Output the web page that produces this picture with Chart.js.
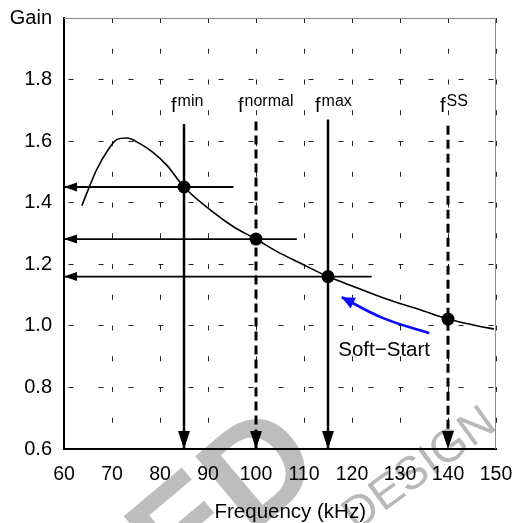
<!DOCTYPE html>
<html>
<head>
<meta charset="utf-8">
<script src="https://cdn.jsdelivr.net/npm/chart.js@4.4.1/dist/chart.umd.min.js"></script>
<style>
  html, body { margin: 0; padding: 0; background: #fff; }
  #wrap { width: 518px; height: 523px; position: relative; }
</style>
</head>
<body>
<div id="wrap"><canvas id="gainChart"></canvas></div>
<script>
const xTickValues = [60, 70, 80, 90, 100, 110, 120, 130, 140, 150];
const yTickValues = [0.6, 0.8, 1.0, 1.2, 1.4, 1.6, 1.8, 2.0];
const yAxisName = "Gain";
const xAxisName = "Frequency (kHz)";

// gain curve
const gainFreq  = [63.7, 66.8, 69.2, 71.0, 73.1, 75.8, 78.6, 81.4, 85.0, 91.0, 95.3, 100.0, 104.3, 109.2, 115.0, 120.3, 127.2, 134.2, 140.0, 146.7, 149.6];
const gainValue = [1.39, 1.507, 1.572, 1.605, 1.61, 1.592, 1.563, 1.522, 1.451, 1.37, 1.322, 1.282, 1.242, 1.204, 1.16, 1.128, 1.087, 1.052, 1.022, 0.998, 0.99];

// operating points fmin / fnormal / fmax / fSS
const opNames   = ["min", "normal", "max", "SS"];
const opFreq    = [85, 100, 115, 140];
const opGain    = [1.451, 1.282, 1.16, 1.022];
const opLineTop = [1.656, 1.664, 1.67, 1.65];

// right-hand ends of the horizontal read-out arrows (fmin, fnormal, fmax)
const readoutFrom = [95.3, 108.5, 124.1];

// soft-start sweep arrow, tail to tip
const softStartFreq = [136.1, 126.5, 117.85];
const softStartGain = [0.976, 1.025, 1.093];
const softStartText = "Soft\u2212Start";

const FONT = "'Liberation Sans', Arial, Helvetica, sans-serif";
Chart.defaults.font.family = FONT;
Chart.defaults.color = "#000";

function pts(xs, ys) {
  return xs.map(function (x, i) { return { x: x, y: ys[i] }; });
}

const datasets = [];

datasets.push({
  data: pts(gainFreq, gainValue),
  borderColor: "#000",
  borderWidth: 1.6,
  pointRadius: 0,
  cubicInterpolationMode: "monotone",
  order: 3,
});

opFreq.forEach(function (f, i) {
  var dashed = opNames[i] === "normal" || opNames[i] === "SS";
  datasets.push({
    data: [{ x: f, y: opLineTop[i] }, { x: f, y: yTickValues[0] }],
    borderColor: "#000",
    borderWidth: dashed ? 3 : 2.5,
    borderDash: dashed ? [9, 5] : [],
    pointRadius: 0,
    arrow: { len: 18, half: 6 },
    opName: opNames[i],
    order: 2,
  });
});

readoutFrom.forEach(function (f, i) {
  datasets.push({
    data: [{ x: f, y: opGain[i] }, { x: xTickValues[0], y: opGain[i] }],
    borderColor: "#000",
    borderWidth: 1.8,
    pointRadius: 0,
    arrow: { len: 13, half: 4.5 },
    order: 2,
  });
});

datasets.push({
  data: pts(softStartFreq, softStartGain),
  borderColor: "#0a0aff",
  borderWidth: 2.6,
  tension: 0.4,
  pointRadius: 0,
  arrow: { len: 13, half: 6, color: "#0a0aff" },
  order: 1,
});

datasets.push({
  data: pts(opFreq, opGain),
  showLine: false,
  pointRadius: 6.5,
  pointBackgroundColor: "#000",
  pointBorderColor: "#000",
  pointBorderWidth: 0,
  order: 0,
});

const watermarkPlugin = {
  id: "watermark",
  beforeDraw: function (chart) {
    const ctx = chart.ctx;
    ctx.save();
    ctx.fillStyle = "#bdbdbd";
    ctx.translate(250, 536);
    ctx.rotate(-40 * Math.PI / 180);
    ctx.font = "bold 140px " + FONT;
    ctx.textBaseline = "alphabetic";
    ctx.fillText("ED", -ctx.measureText("E").width, 0);
    ctx.restore();

    ctx.save();
    ctx.fillStyle = "#b8b8b8";
    ctx.translate(356, 532);
    ctx.rotate(-36 * Math.PI / 180);
    ctx.font = "46px " + FONT;
    ctx.fillText("DESIGN", 0, 0);
    ctx.restore();
  },
};

const framePlugin = {
  id: "frame",
  beforeDatasetsDraw: function (chart) {
    const a = chart.chartArea;
    const ctx = chart.ctx;
    ctx.save();
    ctx.strokeStyle = "#888";
    ctx.lineWidth = 1;
    ctx.beginPath();
    ctx.moveTo(a.left, a.top + 0.5);
    ctx.lineTo(a.right - 0.5, a.top + 0.5);
    ctx.lineTo(a.right - 0.5, a.bottom);
    ctx.stroke();
    ctx.restore();
  },
};

// small nudges for the f-labels so they sit as in the original
const labelNudge = { normal: -5, SS: 5 };

const annotatePlugin = {
  id: "annotate",
  afterDatasetsDraw: function (chart) {
    const ctx = chart.ctx;
    const xs = chart.scales.x;
    const ys = chart.scales.y;

    chart.data.datasets.forEach(function (ds, i) {
      if (!ds.arrow) return;
      const els = chart.getDatasetMeta(i).data;
      const tip = els[els.length - 1];
      const prev = els[els.length - 2];
      let fx = prev.x, fy = prev.y;
      if (tip.cp1x != null && (tip.cp1x !== tip.x || tip.cp1y !== tip.y)) {
        fx = tip.cp1x; fy = tip.cp1y;
      }
      const ang = Math.atan2(tip.y - fy, tip.x - fx);
      const c = Math.cos(ang), s = Math.sin(ang);
      const bx = tip.x - ds.arrow.len * c, by = tip.y - ds.arrow.len * s;
      ctx.save();
      ctx.fillStyle = ds.arrow.color || "#000";
      ctx.beginPath();
      ctx.moveTo(tip.x, tip.y);
      ctx.lineTo(bx - ds.arrow.half * s, by + ds.arrow.half * c);
      ctx.lineTo(bx + ds.arrow.half * s, by - ds.arrow.half * c);
      ctx.closePath();
      ctx.fill();
      ctx.restore();

      if (ds.opName) {
        const px = xs.getPixelForValue(ds.data[0].x) - 13 + (labelNudge[ds.opName] || 0);
        const py = ys.getPixelForValue(1.696);
        ctx.save();
        ctx.fillStyle = "#000";
        ctx.textBaseline = "alphabetic";
        ctx.textAlign = "left";
        ctx.font = "20px " + FONT;
        const fw = ctx.measureText("f").width;
        ctx.fillText("f", px, py);
        ctx.font = "16px " + FONT;
        ctx.fillText(ds.opName, px + fw + 1, py - 6);
        ctx.restore();
      }
    });

    ctx.save();
    ctx.fillStyle = "#000";
    ctx.font = "20.5px " + FONT;
    ctx.textAlign = "center";
    ctx.textBaseline = "middle";
    ctx.fillText(softStartText, xs.getPixelForValue(126.7), ys.getPixelForValue(0.92));
    ctx.restore();
  },
};

new Chart(document.getElementById("gainChart"), {
  type: "line",
  data: { datasets: datasets },
  plugins: [watermarkPlugin, framePlugin, annotatePlugin],
  options: {
    responsive: true,
    maintainAspectRatio: false,
    animation: false,
    events: [],
    layout: { padding: { left: 0, top: 18, right: 22, bottom: 0 } },
    plugins: { legend: { display: false }, tooltip: { enabled: false } },
    scales: {
      x: {
        type: "linear",
        min: xTickValues[0],
        max: xTickValues[xTickValues.length - 1],
        afterBuildTicks: function (scale) {
          scale.ticks = xTickValues.map(function (v) { return { value: v }; });
        },
        afterFit: function (scale) {
          scale.height = 74;
          scale.paddingLeft = 0;
          scale.paddingRight = 0;
        },
        ticks: {
          padding: 14,
          maxRotation: 0,
          autoSkip: false,
          font: { size: 19.5 },
          color: "#000",
        },
        grid: { color: "#222", lineWidth: 1, drawTicks: false },
        border: { display: true, color: "#000", width: 2, dash: [5, 25.75], dashOffset: 0 },
        title: {
          display: true,
          text: "\u2003" + xAxisName,
          font: { size: 20.5, lineHeight: 1 },
          padding: { top: 0, bottom: 0 },
          color: "#000",
        },
      },
      y: {
        type: "linear",
        min: yTickValues[0],
        max: yTickValues[yTickValues.length - 1],
        afterBuildTicks: function (scale) {
          scale.ticks = yTickValues.map(function (v) { return { value: v }; });
        },
        afterFit: function (scale) {
          scale.width = 64;
          scale.paddingTop = 0;
          scale.paddingBottom = 0;
        },
        ticks: {
          padding: 12,
          font: { size: 20 },
          color: "#000",
          callback: function (value) {
            if (Math.abs(value - yTickValues[yTickValues.length - 1]) < 1e-6) return yAxisName;
            return Number(value).toFixed(1);
          },
        },
        grid: { color: "#222", lineWidth: 1, drawTicks: false },
        border: { display: true, color: "#000", width: 2, dash: [5, 25], dashOffset: 26.5 },
      },
    },
  },
});
</script>
</body>
</html>
